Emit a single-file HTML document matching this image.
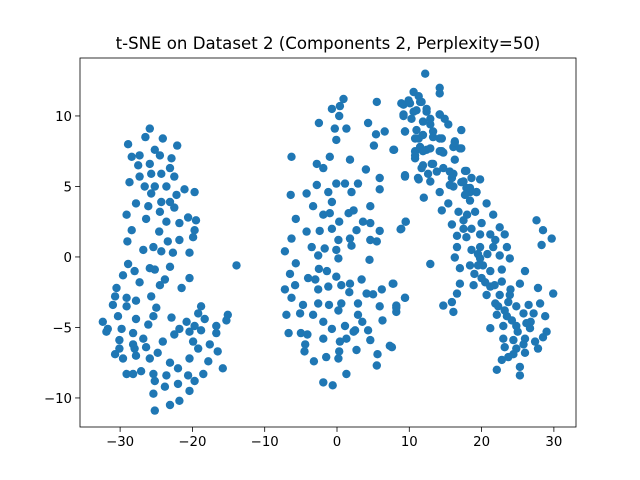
<!DOCTYPE html>
<html><head><meta charset="utf-8"><style>
html,body{margin:0;padding:0;background:#fff;}
svg{display:block;font-family:"DejaVu Sans","Liberation Sans",sans-serif;}
</style></head><body>
<svg id="chart" width="640" height="480" viewBox="0 0 640 480" xmlns="http://www.w3.org/2000/svg">
<rect x="0" y="0" width="640" height="480" fill="#fff"/>
<text x="328" y="49" text-anchor="middle" font-size="16.6" fill="#000">t-SNE on Dataset 2 (Components 2, Perplexity=50)</text>
<g id="points"></g>
<g id="axes"></g>
</svg>
<script>
const xs1=[-25.9,-26.5,-24.1,-28.9,-22.1,-25.2,-28.4,-27.3,-24.5,-22.9,-25.9,-27.5,-23.1,-27.3,-25.7,-24.3,-22.5,-28.7,-26.6,-25.2,-23.6,-21.1,-19.7,-25.7,-22.2,-27.8,-26.1,-24.3,-23.1,-22.5,-24.5,-29.1,-26.4,-23.6,-21.8,-20.6,-19.5,-28.4,-24.6,-19.7,-19.9,-21.8,-23.4,-29.0,-26.8,-25.4,-24.3,-22.7,-20.4,-28.9,-25.9,-23.1,-13.9,-29.6,-28.0,-25.2,-27.3,-23.8,-20.4,-30.5,-24.5,-21.5,-30.7,-29.1,-27.8,-25.7,-31.0,-29.1,-25.0,-18.8,-19.2,-30.3,-27.8,-25.4,-22.9,-20.8,-15.1,-15.3,-32.4,-31.9,-29.8,-26.1,-21.8,-19.7,-18.3,-16.7,-16.7,-30.1,-28.2,-26.8,-22.5,-20.4,-18.8,-30.1,-28.2,-26.4,-24.1,-19.9,-17.6,-16.5,-30.7,-29.6,-27.8,-25.9,-24.8,-20.4,-19.2,-17.8,-15.8,-29.1,-27.1,-25.4,-23.1,-22.0,-20.6,-23.6,-25.2,-22.0,-19.7,-18.5,-25.4,-23.8,-20.4,-21.8,-23.1,-25.2,-28.2,-28.0,-31.7];
const ys1=[9.1,8.5,8.4,8.0,7.9,7.6,7.1,7.2,7.2,7.0,6.6,6.5,6.3,5.7,5.9,5.9,5.7,5.3,5.0,5.0,5.0,4.8,4.6,4.5,4.4,3.8,3.6,3.9,3.9,3.5,3.2,3.0,2.7,2.5,2.4,2.8,2.6,1.9,1.8,1.9,1.4,1.2,1.1,1.1,0.5,0.7,0.4,0.3,0.3,-0.5,-0.8,-0.7,-0.6,-1.3,-1.0,-0.9,-1.8,-1.6,-1.5,-2.2,-2.0,-2.2,-2.8,-2.9,-3.1,-2.8,-3.4,-3.5,-3.6,-3.5,-4.0,-4.2,-4.4,-4.2,-4.3,-4.6,-4.1,-4.5,-4.6,-5.3,-5.1,-4.8,-5.1,-4.9,-4.4,-4.9,-5.4,-5.9,-5.4,-5.8,-5.5,-5.3,-5.2,-6.5,-6.2,-6.4,-6.0,-6.0,-6.2,-6.7,-6.9,-7.2,-7.0,-7.2,-6.8,-7.2,-6.5,-7.4,-7.9,-8.3,-8.1,-8.3,-7.5,-7.9,-8.4,-8.4,-8.8,-9.0,-8.8,-8.3,-9.7,-9.2,-9.5,-10.2,-10.5,-10.9,-8.3,-6.5,-5.1];
const xs2=[0.9,-0.7,0.4,5.5,0.3,-2.5,-0.3,1.3,4.3,6.6,5.4,-0.1,5.1,7.9,-6.3,-2.8,-1.0,1.8,-1.9,4.0,9.4,5.9,2.9,-2.8,-0.1,1.1,-4.2,-1.2,2.0,5.9,-6.4,-0.7,-3.3,4.6,-1.9,-1.0,1.6,2.3,-5.7,0.3,3.6,4.6,9.5,8.8,-4.2,-2.4,-0.7,2.7,5.9,-6.3,0.2,1.8,4.6,5.5,-3.5,-1.7,2.0,-7.2,-0.1,-2.6,0.2,4.5,-5.7,-2.5,-1.4,-6.5,-4.0,-3.0,-0.1,3.4,-7.2,-5.8,-2.6,-1.2,0.6,1.8,1.7,4.1,5.0,6.2,7.7,9.4,-6.3,-4.7,-2.6,-1.1,0.6,2.9,5.9,8.2,-7.0,-5.1,-3.3,0.2,8.2,-1.9,2.9,3.5,6.3,-6.7,-5.0,-4.1,-0.7,1.1,2.5,4.3,-4.4,-1.9,1.3,4.6,7.3,-4.5,0.3,2.7,5.6,-3.2,-1.5,0.2,5.5,1.3,-1.9,-0.6,2.3,0.4];
const ys2=[11.2,10.5,10.7,11.0,10.0,9.5,9.1,9.1,9.5,8.9,8.7,8.3,7.9,7.6,7.1,6.6,7.1,6.9,6.3,6.2,5.8,5.6,5.2,5.1,5.2,5.2,4.5,4.6,4.6,4.8,4.4,3.9,3.6,3.6,3.0,3.1,3.1,3.3,2.7,2.5,2.5,2.4,2.5,1.96,1.8,1.85,2.0,1.9,1.85,1.3,1.2,1.3,1.2,1.1,0.7,0.6,0.8,0.4,0.5,0.1,-0.1,-0.2,-0.45,-0.85,-1.0,-1.2,-1.5,-1.6,-1.4,-1.6,-2.3,-2.0,-2.3,-2.1,-2.0,-1.9,-2.5,-2.6,-2.65,-2.3,-1.9,-2.9,-2.9,-3.4,-3.3,-3.4,-3.3,-3.3,-3.5,-3.45,-4.1,-4.0,-4.1,-3.8,-3.9,-4.6,-4.1,-4.6,-4.5,-5.4,-5.4,-5.5,-5.1,-4.9,-5.2,-5.2,-6.2,-5.8,-5.8,-5.9,-6.3,-6.7,-6.7,-6.6,-6.9,-7.4,-7.1,-7.2,-7.7,-8.3,-8.9,-9.1,-5.3,-6.0];
const xs3=[12.2,14.2,14.2,10.6,11.3,9.2,10.1,11.7,9.2,10.6,12.4,14.2,14.9,15.4,17.2,9.4,11.0,12.9,13.3,7.8,11.3,14.2,16.3,17.2,10.8,12.4,14.2,16.1,10.8,13.1,14.7,16.3,11.7,13.8,15.6,17.7,9.4,11.3,12.9,15.9,17.5,18.6,19.8,14.2,16.1,18.4,19.3,12.0,15.4,14.5,18.4,20.7,16.8,19.1,21.6,15.9,17.5,18.6,27.6,28.5,9.5,8.9,16.6,17.9,19.8,21.2,21.9,22.5,23.2,28.3,29.7,16.6,18.6,19.8,21.6,23.5,16.3,19.8,22.5,23.9,12.9,17.0,18.4,20.2,21.2,26.0,7.8,17.0,18.9,20.0,21.2,22.8,25.3,27.8,29.9,16.6,20.7,22.5,23.9,14.7,16.1,15.9,21.9,23.7,24.8,26.5,28.1,8.2,9.4,22.1,23.5,25.8,27.2,28.8,21.2,23.0,24.8,26.7,29.0,23.0,24.4,26.0,27.4,28.5,23.2,24.8,26.0,27.8,22.8,23.7,25.3,25.3,22.1,7.6,17.9,19.5,
8.9,9.9,11.5,11.0,12.4,9.2,10.3,11.9,12.9,14.2,9.4,10.8,11.9,13.3,14.5,11.5,12.9,16.3,17.0,10.8,11.9,14.5,13.3,11.9,14.7,16.1,11.2,12.6,17.9,17.2,18.4,17.7,19.3,15.6,
19.0,20.5,21.8,22.3,23.2,24.2,25.0,25.8,26.8,24.0,19.5,20.8,17.5,18.0,20.0,22.8,24.4,26.2];
const ys3=[13.0,12.0,11.6,11.7,11.4,10.8,10.9,11.0,10.1,10.3,10.5,10.1,9.8,9.4,9.0,8.9,9.0,9.4,8.9,7.6,8.4,8.4,8.2,7.7,7.5,7.6,7.5,7.8,7.0,6.6,7.4,6.9,6.3,6.05,6.05,6.1,5.7,5.5,5.35,5.6,5.35,5.6,5.5,4.6,5.0,4.6,4.6,4.2,3.8,3.3,4.0,3.8,3.2,3.2,3.0,2.3,2.6,2.0,2.6,1.9,2.5,2.0,1.5,1.4,1.6,1.6,1.2,2.1,1.6,0.85,1.3,0.7,0.5,0.7,0.7,0.7,-0.04,-0.1,0.1,-0.1,-0.5,-0.8,-0.6,-0.6,-1.0,-1.0,-1.9,-1.9,-2.0,-1.5,-2.1,-1.75,-1.9,-2.2,-2.6,-2.6,-2.7,-2.7,-2.7,-3.45,-3.9,-3.2,-3.3,-3.2,-3.5,-3.4,-3.3,-3.6,-2.9,-4.1,-4.2,-4.0,-4.0,-4.2,-5.05,-4.9,-4.9,-5.05,-5.3,-5.8,-5.9,-5.8,-6.0,-5.7,-6.4,-6.5,-6.8,-6.5,-7.3,-7.1,-7.8,-8.4,-8.0,-6.4,4.9,-0.6,
10.9,11.1,11.0,10.4,10.3,10.0,9.8,9.6,9.8,10.1,8.9,8.4,8.65,8.5,8.4,7.8,7.7,8.1,7.7,7.2,7.5,7.5,6.6,6.5,6.3,5.9,5.6,5.9,6.1,5.3,4.9,4.4,4.6,5.1,
-1.2,-1.8,-2.0,-3.5,-3.8,-4.5,-5.3,-6.2,-4.6,-2.3,0.2,0.2,2.0,3.0,2.4,-0.9,-6.9,-4.7];
const xTicks=[-30,-20,-10,0,10,20,30];
const yTicks=[-10,-5,0,5,10];
const xMin=-35.55,xMax=33.06,yMin=-12.06,yMax=14.11;
const L=80,R=576,T=58,B=427;
function sx(v){return L+(v-xMin)/(xMax-xMin)*(R-L);}
function sy(v){return B-(v-yMin)/(yMax-yMin)*(B-T);}
const NS="http://www.w3.org/2000/svg";
const pg=document.getElementById('points');
[[xs1,ys1],[xs2,ys2],[xs3,ys3]].forEach(function(s){
  for(let i=0;i<s[0].length;i++){
    const c=document.createElementNS(NS,'circle');
    c.setAttribute('cx',sx(s[0][i]).toFixed(1));
    c.setAttribute('cy',sy(s[1][i]).toFixed(1));
    c.setAttribute('r','4.2');
    c.setAttribute('fill','#1f77b4');
    
    
    pg.appendChild(c);
  }
});
const ag=document.getElementById('axes');
const frame=document.createElementNS(NS,'rect');
frame.setAttribute('x',L);frame.setAttribute('y',T);frame.setAttribute('width',R-L);frame.setAttribute('height',B-T);
frame.setAttribute('fill','none');frame.setAttribute('stroke','#000');frame.setAttribute('stroke-width','0.8');


ag.appendChild(frame);
xTicks.forEach(function(t){
  const x=sx(t);
  const l=document.createElementNS(NS,'line');
  l.setAttribute('x1',x);l.setAttribute('x2',x);l.setAttribute('y1',B);l.setAttribute('y2',B+4.9);
  l.setAttribute('stroke','#000');l.setAttribute('stroke-width','0.8');
  
  
  ag.appendChild(l);
  const tx=document.createElementNS(NS,'text');
  tx.setAttribute('x',x);tx.setAttribute('y',B+19);tx.setAttribute('text-anchor','middle');tx.setAttribute('font-size','13.3');
  tx.textContent=(t<0?'\u2212'+(-t):String(t));
  
  
  ag.appendChild(tx);
});
yTicks.forEach(function(t){
  const y=sy(t);
  const l=document.createElementNS(NS,'line');
  l.setAttribute('x1',L-4.9);l.setAttribute('x2',L);l.setAttribute('y1',y);l.setAttribute('y2',y);
  l.setAttribute('stroke','#000');l.setAttribute('stroke-width','0.8');
  
  
  ag.appendChild(l);
  const tx=document.createElementNS(NS,'text');
  tx.setAttribute('x',L-8);tx.setAttribute('y',y+4.8);tx.setAttribute('text-anchor','end');tx.setAttribute('font-size','13.3');
  tx.textContent=(t<0?'\u2212'+(-t):String(t));
  
  
  ag.appendChild(tx);
});
</script>
</body></html>
